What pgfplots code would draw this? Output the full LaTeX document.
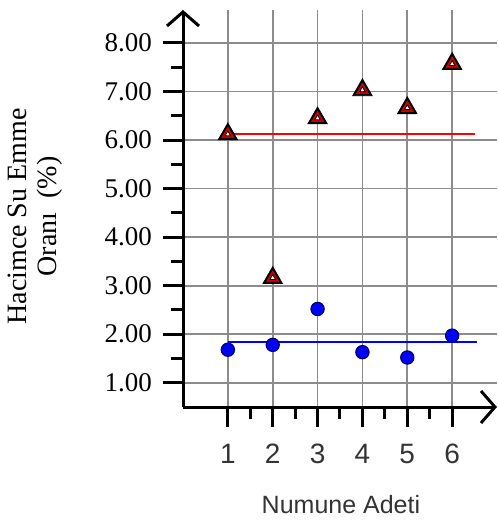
\documentclass[border=0pt]{standalone}
\usepackage{fontspec}
\setmainfont{Liberation Serif}
\setsansfont{Liberation Sans}
\usepackage{pgfplots}
\pgfplotsset{compat=1.18}
\usetikzlibrary{arrows.meta}
\begin{document}
\begin{tikzpicture}
\begin{axis}[
  name=ax,
  scale only axis,
  width=157pt, height=198.5pt,
  xmin=0, xmax=7, ymin=0.5, ymax=8.68,
  axis lines=left,
  axis line style={line width=1.5pt, black},
  every outer x axis line/.append style={-{Straight Barb[length=7pt,width=16pt]}},
  every outer y axis line/.append style={-{Straight Barb[length=7pt,width=16pt]}},
  xtick={1,2,3,4,5,6},
  minor xtick={1.5,2.5,3.5,4.5,5.5},
  ytick={1,2,3,4,5,6,7,8},
  minor ytick={1.5,2.5,3.5,4.5,5.5,6.5,7.5},
  tick align=outside,
  major tick length=10pt,
  minor tick length=6pt,
  every tick/.style={line width=1.5pt, black},
  grid=major,
  major grid style={line width=0.9pt, black!45},
  /pgf/number format/assume math mode=true,
  yticklabel style={/pgf/number format/.cd, fixed, fixed zerofill, precision=2, /tikz/.cd, font=\fontsize{13.5}{14}\selectfont, xshift=-2pt},
  xticklabel style={font=\fontsize{14}{14}\sffamily\selectfont, color=black!80, yshift=-5pt},
  xlabel={Numune Adeti},
  every axis x label/.style={at={(axis description cs:0.503,0)}, anchor=center, yshift=-49pt, font=\fontsize{12.5}{14}\sffamily\selectfont, color=black!80},
  ylabel={Hacimce Su Emme\\Oranı\ \ (\%)},
  every axis y label/.style={at={(axis description cs:0,0.48)}, xshift=-74pt, anchor=center, rotate=90, align=center, font=\fontsize{14}{15}\selectfont},
  clip=false,
]
\addplot[red, line width=1pt] coordinates {(1,6.13) (6.52,6.13)};
\addplot[blue, line width=1pt] coordinates {(1,1.84) (6.55,1.84)};
\addplot[only marks, mark=triangle*, mark size=5.6pt, mark options={fill=black, draw=none}] coordinates {(1,6.12) (2,3.16) (3,6.45) (4,7.03) (5,6.66) (6,7.57)};
\addplot[only marks, mark=triangle*, mark size=4.4pt, mark options={fill=red!80!black, draw=none}] coordinates {(1,6.12) (2,3.16) (3,6.45) (4,7.03) (5,6.66) (6,7.57)};
\addplot[only marks, mark=triangle*, mark size=1.6pt, mark options={fill=white, draw=none}] coordinates {(1,6.12) (2,3.16) (3,6.45) (4,7.03) (5,6.66) (6,7.57)};
\addplot[only marks, mark=*, mark size=3.3pt, mark options={fill=blue, draw=blue!40!black, line width=0.6pt}] coordinates {(1,1.68) (2,1.78) (3,2.52) (4,1.63) (5,1.52) (6,1.97)};
\end{axis}
\path ([shift={(-91.5pt,-57.5pt)}]ax.south west) rectangle ([shift={(1pt,5pt)}]ax.north east);
\end{tikzpicture}
\end{document}
